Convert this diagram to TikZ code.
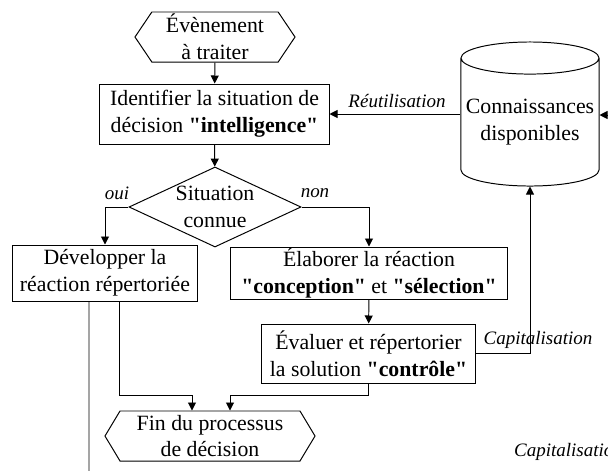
\documentclass[tikz,border=0pt]{standalone}
\usepackage{fontspec}
\setmainfont[Ligatures=TeXOff]{Liberation Serif}
\usetikzlibrary{shapes.geometric, shapes.symbols, arrows.meta}

\tikzset{
	boite/.style={draw, rectangle, align=center, inner sep=0pt},
	hexa/.style={draw, signal, signal to=west and east, align=center, inner sep=0pt},
	fleche/.style={-{Triangle[length=0.2cm, width=0.2cm]}},
	etiq/.style={font=\fontsize{13.5}{16}\selectfont\itshape}
}

\begin{document}
\begin{tikzpicture}[x={(0.025cm,0)}, y={(0,-0.025cm)}, line width=0.7pt,
	every node/.append style={font=\fontsize{15.5}{19}\selectfont}]

	\useasboundingbox (0,0) rectangle (608,470);

	% les etapes
	\node[hexa, signal pointer angle=112, minimum width=4cm, minimum height=1.25cm] (evt) at (215,37) {Évènement\\à traiter};
	\node[boite, minimum width=5.725cm, minimum height=1.5cm] (ident) at (214.5,114) {Identifier la situation de\\décision \textbf{"intelligence"}};
	\node[draw, diamond, aspect=2.15, inner sep=0pt, align=center, minimum width=4.3cm, minimum height=2cm] (sit) at (215,207) {Situation\\connue};
	\node[boite, minimum width=4.6cm, minimum height=1.4cm] (dev) at (105,273) {Développer la\\réaction répertoriée};
	\node[boite, minimum width=6.9cm, minimum height=1.3cm] (elab) at (369,273) {Élaborer la réaction\\\textbf{"conception"} et \textbf{"sélection"}};
	\node[boite, minimum width=5.325cm, minimum height=1.475cm] (eval) at (368.5,353.5) {Évaluer et répertorier\\la solution \textbf{"contrôle"}};
	\node[hexa, signal pointer angle=118, minimum width=5.25cm, minimum height=1.25cm] (fin) at (210,436) {Fin du processus\\de décision};
	\node[draw, cylinder, shape border rotate=90, aspect=0.25, align=center, inner sep=0pt, minimum width=3.45cm, minimum height=3.6cm, anchor=shape center] (conn) at (530,114) {Connaissances\\disponibles};

	\coordinate (bas) at (89,480);
	\coordinate (droite) at (620,115);

	% les liens
	\draw[fleche] (evt) -- (ident);
	\draw[fleche] (ident) -- (sit);
	\draw[fleche] (sit.west) -| (dev.north);
	\draw[fleche] (sit.east) -| (elab.north);
	\draw[fleche] (elab) -- (eval);
	\draw[fleche] (eval.east) -| (conn.south);
	\draw[fleche] (conn.west |- ident.east) -- (ident.east);
	\draw[fleche] (droite) -- (droite -| conn.east);
	\draw[fleche] ([xshift=0.35cm]dev.south) -- ++(0,94) -| ([xshift=-0.45cm]fin.north);
	\draw[fleche] (eval.south) -- ++(0,11.5) -| ([xshift=0.5cm]fin.north);
	\draw ([xshift=-0.4cm]dev.south) -- (bas);

	\node[etiq] (oui) at (117,193) {oui};
	\node[etiq] (non) at (315,193) {non};
	\node[etiq] (reut) at (397,101) {Réutilisation};
	\node[etiq] (capa) at (538,340) {Capitalisation};
	\node[etiq, anchor=west] (capb) at (509,452) {Capitalisation};

\end{tikzpicture}
\end{document}
